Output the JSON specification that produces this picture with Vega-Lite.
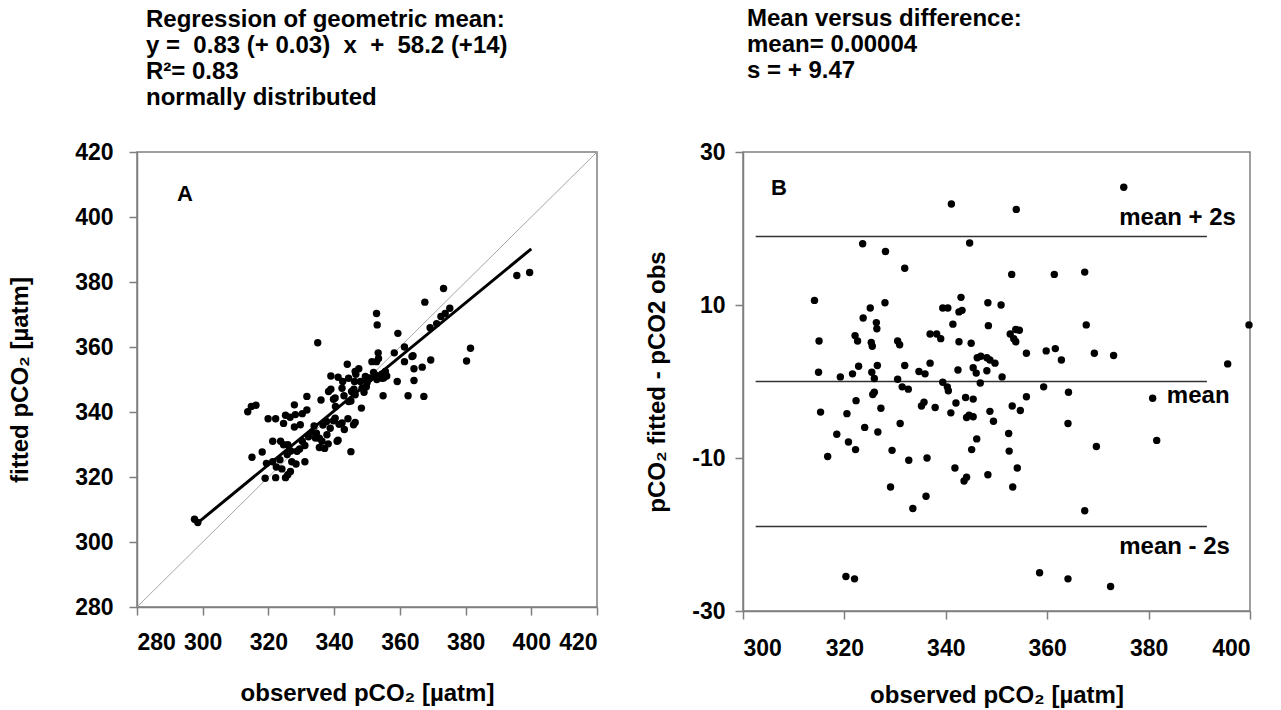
{
  "$schema": "https://vega.github.io/schema/vega-lite/v6.json",
  "background": "white",
  "padding": {"left": 7, "top": 6, "right": 5, "bottom": 2},
  "spacing": 45,
  "datasets": {
    "a_points": [
      {"obs":297.5,"fit":307},{"obs":298.5,"fit":306},{"obs":313.7,"fit":340.1},{"obs":314.8,"fit":341.7},{"obs":316.2,"fit":342.1},
      {"obs":315,"fit":326.1},{"obs":318.1,"fit":327.7},{"obs":319,"fit":319.6},{"obs":322.2,"fit":319.8},{"obs":325.2,"fit":319.8},
      {"obs":325.9,"fit":320.7},{"obs":319.9,"fit":337.9},{"obs":322.2,"fit":337.9},{"obs":324.6,"fit":336.5},{"obs":325.2,"fit":339},
      {"obs":326.6,"fit":338.4},{"obs":327.9,"fit":342.2},{"obs":327.9,"fit":335.4},{"obs":331.7,"fit":344.8},{"obs":330.3,"fit":339.5},
      {"obs":331.7,"fit":340.6},{"obs":321.3,"fit":331},{"obs":323.7,"fit":331},{"obs":325.9,"fit":329.9},{"obs":319.4,"fit":324.2},
      {"obs":321.3,"fit":324.7},{"obs":322.4,"fit":323.1},{"obs":323.5,"fit":325.3},{"obs":324.1,"fit":322.5},{"obs":325.7,"fit":326.9},
      {"obs":326.8,"fit":328},{"obs":327.1,"fit":324.7},{"obs":328.4,"fit":324},{"obs":329.5,"fit":328.6},{"obs":331.1,"fit":324.7},
      {"obs":330.3,"fit":331},{"obs":331.1,"fit":329.7},{"obs":332.2,"fit":332.4},{"obs":333.3,"fit":333.8},{"obs":333.9,"fit":335.7},
      {"obs":335,"fit":361.3},{"obs":336,"fit":343.7},{"obs":334.6,"fit":333.5},{"obs":335.5,"fit":331.9},{"obs":335.5,"fit":329.1},
      {"obs":337.1,"fit":328.8},{"obs":338.2,"fit":330.2},{"obs":337.7,"fit":337.1},{"obs":336.6,"fit":336},{"obs":339,"fit":347},
      {"obs":339,"fit":351.1},{"obs":341.2,"fit":350.7},{"obs":342.6,"fit":349.4},{"obs":339.8,"fit":343.9},{"obs":340.4,"fit":341.7},
      {"obs":339.8,"fit":337.3},{"obs":341.2,"fit":331.3},{"obs":341.5,"fit":336.2},{"obs":343.1,"fit":334.6},{"obs":344.2,"fit":337.9},
      {"obs":344,"fit":354.7},{"obs":345.3,"fit":346.3},{"obs":345.1,"fit":343.4},{"obs":345.1,"fit":327.8},{"obs":346.4,"fit":336.8},
      {"obs":346.2,"fit":349.4},{"obs":346.6,"fit":351.6},{"obs":347.5,"fit":353.3},{"obs":348,"fit":349.4},{"obs":348.3,"fit":341.2},
      {"obs":349.1,"fit":346.1},{"obs":349.8,"fit":347.8},{"obs":350.7,"fit":350.5},{"obs":352,"fit":352.2},{"obs":352.9,"fit":370.3},
      {"obs":353.1,"fit":366.8},{"obs":353.4,"fit":358.2},{"obs":352.9,"fit":355.5},{"obs":354.5,"fit":351.6},{"obs":354.9,"fit":345},
      {"obs":355.1,"fit":350.5},{"obs":356,"fit":351.1},{"obs":358.3,"fit":358.2},{"obs":359.4,"fit":364.2},{"obs":359.2,"fit":349.4},
      {"obs":361.4,"fit":360},{"obs":361.4,"fit":355.5},{"obs":362.5,"fit":345},{"obs":364,"fit":357.3},{"obs":364.3,"fit":353.3},
      {"obs":364.3,"fit":349.7},{"obs":366.8,"fit":353.8},{"obs":367.3,"fit":344.8},{"obs":367.6,"fit":373.8},{"obs":369.4,"fit":356},
      {"obs":369.2,"fit":365.9},{"obs":371.2,"fit":367.2},{"obs":372.5,"fit":369.4},{"obs":373.3,"fit":378},{"obs":375.2,"fit":371.9},
      {"obs":380.3,"fit":355.7},{"obs":381.5,"fit":359.6},{"obs":395.6,"fit":382},{"obs":399.5,"fit":382.9},
      {"obs":328.2,"fit":339.2},{"obs":329.7,"fit":336.1},{"obs":324.6,"fit":329.9},{"obs":326.7,"fit":321.7},{"obs":328.7,"fit":327.9},
      {"obs":334.3,"fit":332},{"obs":336.3,"fit":331},{"obs":337.8,"fit":333},{"obs":338.8,"fit":335},{"obs":340.3,"fit":338.1},
      {"obs":340.9,"fit":331},{"obs":342.4,"fit":336.6},{"obs":345.9,"fit":336.1},{"obs":342.4,"fit":347.3},{"obs":344.4,"fit":350.4},
      {"obs":346.4,"fit":352.5},{"obs":349.5,"fit":350.9},{"obs":351.5,"fit":355.5},{"obs":352.5,"fit":351.4},{"obs":354.6,"fit":350.4},
      {"obs":353.5,"fit":356.5},{"obs":355.6,"fit":352.5},{"obs":348.5,"fit":347.3},{"obs":346.4,"fit":345.3},{"obs":344.4,"fit":343.2},
      {"obs":340.3,"fit":344.3},{"obs":338.3,"fit":346.3},{"obs":363.7,"fit":357.1},{"obs":373.8,"fit":370.3},{"obs":343,"fit":345},
      {"obs":346,"fit":347},{"obs":350,"fit":349},{"obs":353,"fit":350}
    ],
    "a_diag": [{"obs":280,"fit":280},{"obs":420,"fit":420}],
    "a_reg": [{"obs":298,"fit":305.5},{"obs":400,"fit":390.2}],
    "b_points": [
      {"obs":323.6,"diff":18.0},{"obs":344.7,"diff":18.1},{"obs":328.1,"diff":17.0},{"obs":331.9,"diff":14.8},{"obs":353.0,"diff":14.0},
      {"obs":361.4,"diff":14.0},{"obs":367.4,"diff":14.3},{"obs":314.1,"diff":10.6},{"obs":328.0,"diff":10.3},{"obs":343.0,"diff":11.0},
      {"obs":348.3,"diff":10.3},{"obs":350.9,"diff":10.0},{"obs":339.4,"diff":9.6},{"obs":340.4,"diff":9.6},{"obs":342.6,"diff":9.1},
      {"obs":343.2,"diff":9.3},{"obs":325.1,"diff":9.6},{"obs":323.7,"diff":8.3},{"obs":326.3,"diff":7.7},{"obs":326.4,"diff":6.9},
      {"obs":341.4,"diff":7.5},{"obs":348.4,"diff":7.3},{"obs":367.7,"diff":7.4},{"obs":399.8,"diff":7.4},{"obs":315.0,"diff":5.3},
      {"obs":322.1,"diff":6.0},{"obs":322.6,"diff":5.3},{"obs":325.3,"diff":5.1},{"obs":325.5,"diff":4.6},{"obs":330.5,"diff":5.3},
      {"obs":330.9,"diff":4.8},{"obs":336.9,"diff":6.2},{"obs":338.2,"diff":6.2},{"obs":339.0,"diff":5.6},{"obs":342.6,"diff":5.2},
      {"obs":345.0,"diff":5.0},{"obs":352.7,"diff":6.2},{"obs":353.8,"diff":6.8},{"obs":354.5,"diff":6.7},{"obs":353.4,"diff":5.6},
      {"obs":353.8,"diff":5.2},{"obs":355.9,"diff":3.7},{"obs":359.8,"diff":4.0},{"obs":361.6,"diff":4.3},{"obs":362.8,"diff":2.8},
      {"obs":369.3,"diff":3.7},{"obs":373.1,"diff":3.4},{"obs":395.6,"diff":2.3},{"obs":314.9,"diff":1.2},{"obs":319.2,"diff":0.6},
      {"obs":321.6,"diff":1.0},{"obs":322.8,"diff":2.0},{"obs":325.4,"diff":1.2},{"obs":325.9,"diff":0.4},{"obs":326.5,"diff":2.1},
      {"obs":330.5,"diff":0.3},{"obs":331.9,"diff":2.1},{"obs":331.4,"diff":-0.7},{"obs":332.6,"diff":-1.0},{"obs":334.7,"diff":1.3},
      {"obs":335.9,"diff":1.0},{"obs":336.9,"diff":2.4},{"obs":339.4,"diff":-0.1},{"obs":340.3,"diff":-0.7},{"obs":340.5,"diff":-1.2},
      {"obs":342.4,"diff":1.5},{"obs":345.4,"diff":1.8},{"obs":346.0,"diff":1.1},{"obs":346.2,"diff":3.1},{"obs":346.9,"diff":3.3},
      {"obs":348.1,"diff":3.1},{"obs":348.7,"diff":2.8},{"obs":349.7,"diff":2.4},{"obs":348.1,"diff":1.4},{"obs":346.8,"diff":-0.2},
      {"obs":351.1,"diff":0.6},{"obs":359.3,"diff":-0.7},{"obs":364.2,"diff":-1.4},{"obs":355.9,"diff":-2.0},{"obs":380.8,"diff":-2.2},
      {"obs":315.3,"diff":-4.0},{"obs":320.5,"diff":-4.2},{"obs":322.3,"diff":-2.5},{"obs":325.6,"diff":-1.7},{"obs":325.9,"diff":-1.4},
      {"obs":327.2,"diff":-3.5},{"obs":335.2,"diff":-3.2},{"obs":335.7,"diff":-2.7},{"obs":337.9,"diff":-3.4},{"obs":341.0,"diff":-4.1},
      {"obs":342.0,"diff":-2.8},{"obs":343.9,"diff":-2.1},{"obs":345.4,"diff":-2.3},{"obs":344.1,"diff":-4.7},{"obs":344.6,"diff":-4.4},
      {"obs":345.4,"diff":-4.6},{"obs":348.7,"diff":-3.9},{"obs":349.4,"diff":-5.2},{"obs":353.1,"diff":-3.2},{"obs":354.7,"diff":-3.8},
      {"obs":364.1,"diff":-5.5},{"obs":324.0,"diff":-6.0},{"obs":326.6,"diff":-6.6},{"obs":318.5,"diff":-6.9},{"obs":320.8,"diff":-7.9},
      {"obs":322.2,"diff":-8.9},{"obs":331.0,"diff":-5.5},{"obs":329.4,"diff":-9.0},{"obs":346.1,"diff":-7.5},{"obs":345.1,"diff":-8.9},
      {"obs":352.4,"diff":-6.8},{"obs":352.5,"diff":-9.1},{"obs":369.7,"diff":-8.5},{"obs":381.6,"diff":-7.7},{"obs":316.7,"diff":-9.8},
      {"obs":332.7,"diff":-10.3},{"obs":336.3,"diff":-10.0},{"obs":341.8,"diff":-11.3},{"obs":344.1,"diff":-12.5},{"obs":343.6,"diff":-13.0},
      {"obs":348.3,"diff":-12.2},{"obs":354.1,"diff":-11.3},{"obs":329.1,"diff":-13.8},{"obs":353.2,"diff":-13.8},{"obs":336.1,"diff":-15.0},
      {"obs":333.5,"diff":-16.6},{"obs":367.4,"diff":-16.9},{"obs":320.3,"diff":-25.5},{"obs":322.0,"diff":-25.8},{"obs":358.5,"diff":-25.0},
      {"obs":364.1,"diff":-25.8},{"obs":372.5,"diff":-26.8},{"obs":341.1,"diff":23.2},{"obs":375.1,"diff":25.4},{"obs":353.9,"diff":22.5}
    ],
    "b_lines": [
      {"level":18.94,"from":302.5,"to":391.5},
      {"level":0.00004,"from":302.5,"to":391.5},
      {"level":-18.94,"from":302.5,"to":391.5}
    ],
    "b_labels": [
      {"obs":374.2,"diff":21.4,"label":"mean + 2s"},
      {"obs":383.6,"diff":-1.85,"label":"mean"},
      {"obs":374.2,"diff":-21.6,"label":"mean - 2s"}
    ],
    "a_tag": [{"obs":294.6,"fit":407.1,"label":"A"}],
    "b_tag": [{"obs":307.1,"diff":25.3,"label":"B"}]
  },
  "hconcat": [
    {
      "width": 460,
      "height": 455,
      "title": {
        "text": ["Regression of geometric mean:", "y =\u00a0 0.83 (+ 0.03)\u00a0 x\u00a0 +\u00a0 58.2 (+14)", "R²= 0.83", "normally distributed"],
        "anchor": "start", "frame": "group", "dx": 9, "offset": 31
      },
      "layer": [
        {
          "data": {"name": "a_diag"},
          "mark": {"type": "line", "color": "#a6a6a6", "strokeWidth": 1},
          "encoding": {
            "x": {"field": "obs", "type": "quantitative", "scale": {"domain": [280, 420], "nice": false, "zero": false},
                  "axis": {"values": [280, 300, 320, 340, 360, 380, 400, 420], "title": "observed pCO₂ [µatm]", "labelPadding": 16, "titlePadding": 27}},
            "y": {"field": "fit", "type": "quantitative", "scale": {"domain": [280, 420], "nice": false, "zero": false},
                  "axis": {"values": [280, 300, 320, 340, 360, 380, 400, 420], "title": "fitted pCO₂ [µatm]", "labelPadding": 16, "titlePadding": 42}}
          }
        },
        {
          "data": {"name": "a_points"},
          "mark": {"type": "circle", "color": "black", "opacity": 1, "size": 55},
          "encoding": {
            "x": {"field": "obs", "type": "quantitative"},
            "y": {"field": "fit", "type": "quantitative"}
          }
        },
        {
          "data": {"name": "a_reg"},
          "mark": {"type": "line", "color": "black", "strokeWidth": 3},
          "encoding": {
            "x": {"field": "obs", "type": "quantitative"},
            "y": {"field": "fit", "type": "quantitative"}
          }
        },
        {
          "data": {"name": "a_tag"},
          "mark": {"type": "text", "fontSize": 22, "fontWeight": "bold", "align": "center", "baseline": "middle", "color": "black"},
          "encoding": {
            "x": {"field": "obs", "type": "quantitative"},
            "y": {"field": "fit", "type": "quantitative"},
            "text": {"field": "label"}
          }
        }
      ]
    },
    {
      "width": 507,
      "height": 459,
      "title": {
        "text": ["Mean versus difference:", "mean= 0.00004", "s = + 9.47"],
        "anchor": "start", "frame": "group", "dx": 4, "offset": 58
      },
      "layer": [
        {
          "data": {"name": "b_lines"},
          "mark": {"type": "rule", "color": "#333333", "strokeWidth": 1.5},
          "encoding": {
            "x": {"field": "from", "type": "quantitative", "scale": {"domain": [300, 400], "nice": false, "zero": false},
                  "axis": {"values": [300, 320, 340, 360, 380, 400], "title": "observed pCO₂ [µatm]", "labelPadding": 18, "titlePadding": 23}},
            "x2": {"field": "to"},
            "y": {"field": "level", "type": "quantitative", "scale": {"domain": [-30, 30], "nice": false, "zero": false},
                  "axis": {"values": [-30, -10, 10, 30], "title": "pCO₂ fitted - pCO2 obs", "labelPadding": 10, "titlePadding": 22,
                           "labelExpr": "datum.value < 0 ? '-' + abs(datum.value) : '' + datum.value"}}
          }
        },
        {
          "data": {"name": "b_points"},
          "mark": {"type": "circle", "color": "black", "opacity": 1, "size": 55},
          "encoding": {
            "x": {"field": "obs", "type": "quantitative"},
            "y": {"field": "diff", "type": "quantitative"}
          }
        },
        {
          "data": {"name": "b_labels"},
          "mark": {"type": "text", "fontSize": 24, "fontWeight": "bold", "align": "left", "baseline": "middle", "color": "black"},
          "encoding": {
            "x": {"field": "obs", "type": "quantitative"},
            "y": {"field": "diff", "type": "quantitative"},
            "text": {"field": "label"}
          }
        },
        {
          "data": {"name": "b_tag"},
          "mark": {"type": "text", "fontSize": 22, "fontWeight": "bold", "align": "center", "baseline": "middle", "color": "black"},
          "encoding": {
            "x": {"field": "obs", "type": "quantitative"},
            "y": {"field": "diff", "type": "quantitative"},
            "text": {"field": "label"}
          }
        }
      ]
    }
  ],
  "config": {
    "font": "Liberation Sans",
    "view": {"stroke": "#7f7f7f", "strokeWidth": 1.5},
    "axis": {
      "grid": false, "domainColor": "#7f7f7f", "domainWidth": 1.5, "tickColor": "#7f7f7f", "tickWidth": 1.5, "tickSize": 8,
      "labelFont": "Liberation Sans", "labelFontSize": 23, "labelFontWeight": "bold", "labelColor": "black",
      "titleFont": "Liberation Sans", "titleFontSize": 24, "titleFontWeight": "bold", "titleColor": "black"
    },
    "title": {"font": "Liberation Sans", "fontSize": 24, "fontWeight": "bold", "color": "black", "lineHeight": 26}
  }
}
